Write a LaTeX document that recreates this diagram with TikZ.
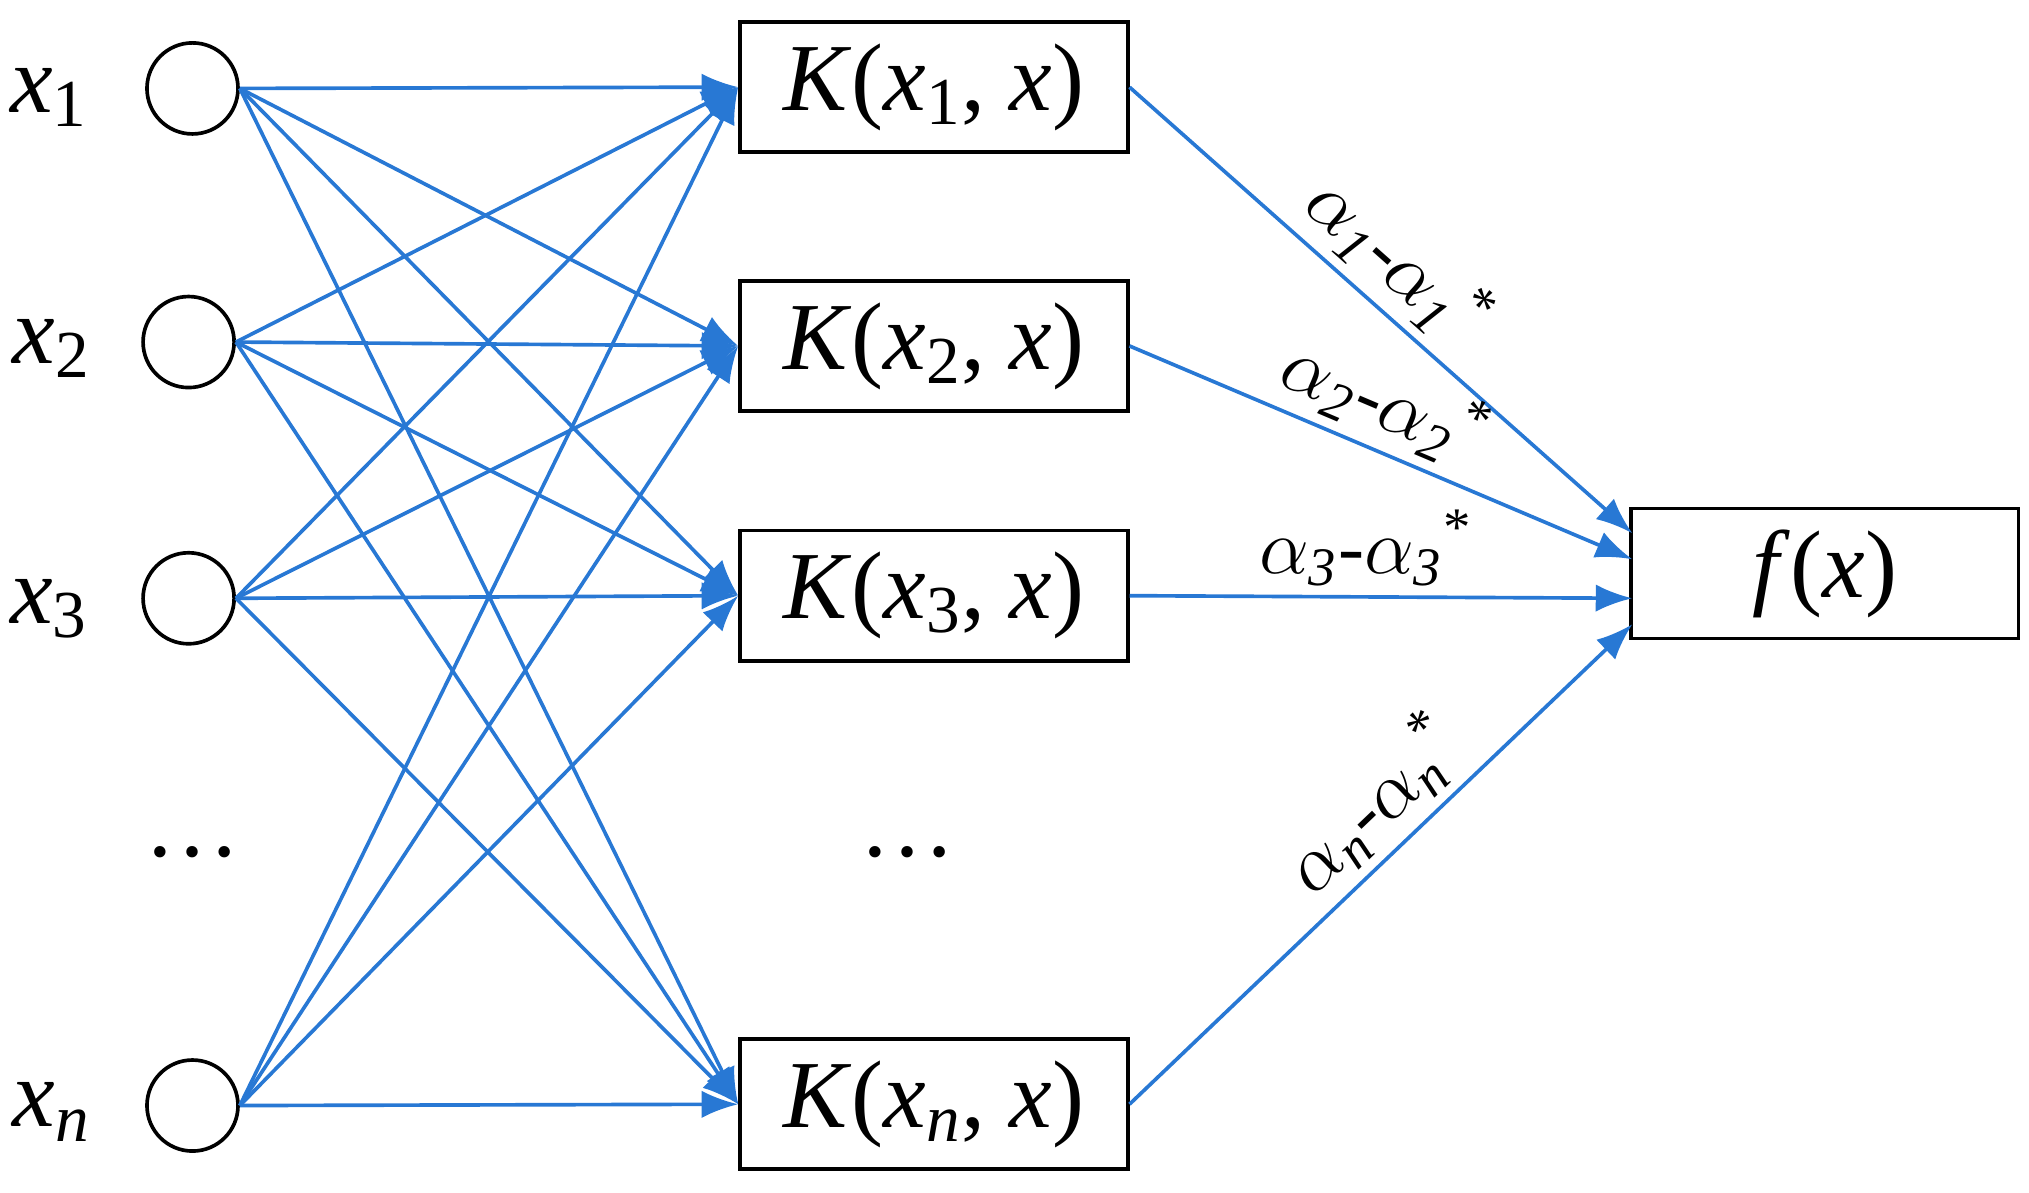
\documentclass[tikz,border=0pt]{standalone}
\usepackage{fontspec}
\setmainfont{Liberation Serif}
\usetikzlibrary{arrows.meta}
\newcommand{\vx}[1]{\textit{#1}}
\newcommand{\al}[1]{$\alpha$\textsubscript{\textit{#1}}-$\alpha$\textsubscript{\textit{#1}}\textsuperscript{*}}
\begin{document}
\begin{tikzpicture}[
    inp/.style={circle, draw, thick, minimum size=7cm/10},
    kbox/.style={draw, thick, minimum width=2.98cm, minimum height=1cm, font=\fontsize{21}{25}\selectfont},
    lbl/.style={font=\fontsize{21}{25}\selectfont},
    wt/.style={font=\fontsize{17}{20}\selectfont, sloped, above, inner sep=2pt},
    edge/.style={draw={rgb,255:red,40;green,120;blue,212}, thick, -{Latex[length=8pt,width=6pt]}}
  ]
    \useasboundingbox (0,0) rectangle (15.6,-9.165);

    % inputs
    \node[inp] (c1) at (1.48,-0.68) {};
    \node[inp] (c2) at (1.45,-2.63) {};
    \node[inp] (c3) at (1.45,-4.60) {};
    \node[inp] (cn) at (1.48,-8.50) {};
    \node[lbl] (l1) at (0.38,-0.75) {\vx{x}\textsubscript{1}};
    \node[lbl] (l2) at (0.40,-2.68) {\vx{x}\textsubscript{2}};
    \node[lbl] (l3) at (0.38,-4.68) {\vx{x}\textsubscript{3}};
    \node[lbl] (ln) at (0.40,-8.55) {\vx{x}\textsubscript{\vx{n}}};
    \node[lbl] (d1) at (1.48,-6.55) {\dots};

    % kernels
    \node[kbox] (k1) at (7.18,-0.67) {\vx{K}(\vx{x}\textsubscript{1}, \vx{x})};
    \node[kbox] (k2) at (7.18,-2.66) {\vx{K}(\vx{x}\textsubscript{2}, \vx{x})};
    \node[kbox] (k3) at (7.18,-4.58) {\vx{K}(\vx{x}\textsubscript{3}, \vx{x})};
    \node[kbox] (kn) at (7.18,-8.49) {\vx{K}(\vx{x}\textsubscript{\vx{n}}, \vx{x})};
    \node[lbl] (d2) at (6.98,-6.55) {\dots};

    % output
    \node[kbox] (f) at (14.03,-4.41) {\vx{f}(\vx{x})};
    \coordinate (f1) at (12.55,-4.10);
    \coordinate (f2) at (12.55,-4.30);
    \coordinate (f3) at (12.55,-4.60);
    \coordinate (fn) at (12.55,-4.80);

    \foreach \i in {1,2,3,n}
      \foreach \j in {1,2,3,n}
        \draw[edge] (c\i.east) -- (k\j.west);

    \draw[edge] (k1.east) -- node[wt, pos=0.47] {\al{1}} (f1);
    \draw[edge] (k2.east) -- node[wt, pos=0.47] {\al{2}} (f2);
    \draw[edge] (k3.east) -- node[wt, pos=0.47] {\al{3}} (f3);
    \draw[edge] (kn.east) -- node[wt, pos=0.55] {\al{n}} (fn);
\end{tikzpicture}
\end{document}
